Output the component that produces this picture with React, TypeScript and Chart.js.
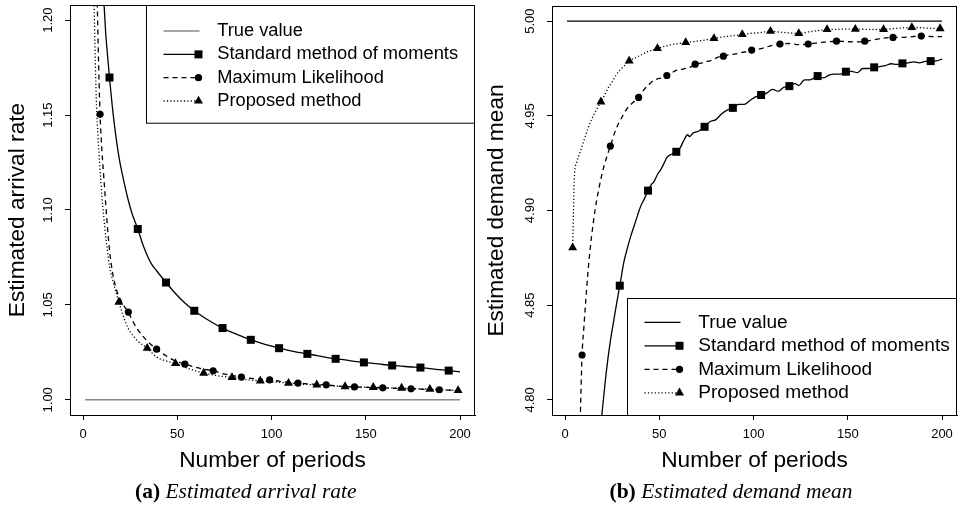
import React, { useEffect, useRef } from 'react';
import { Chart, registerables } from 'chart.js';

Chart.register(...registerables);

// ---------------- data ----------------
const X_TICKS = [0, 50, 100, 150, 200];
const Y_TICKS_A = [1.0, 1.05, 1.1, 1.15, 1.2];
const Y_TICKS_B = [4.8, 4.85, 4.9, 4.95, 5.0];
const SERIES_LABELS = ['True value', 'Standard method of moments', 'Maximum Likelihood', 'Proposed method'];
const X_TITLE = 'Number of periods';
const Y_TITLE_A = 'Estimated arrival rate';
const Y_TITLE_B = 'Estimated demand mean';
const CAPTION_A = ['(a)', 'Estimated arrival rate'];
const CAPTION_B = ['(b)', 'Estimated demand mean'];

const TRUE_N = [1, 200];
const TRUE_A = [1.0, 1.0];
const TRUE_B = [5.0, 5.0];

// (a) arrival rate — standard method of moments
const SMM_A_N = [9, 10, 11, 12, 13, 14, 16, 19, 21, 24, 26, 29, 32, 36, 39, 44, 49, 54, 59, 64, 69, 74, 79, 84, 89, 94, 99, 104, 109, 114, 119, 124, 129, 134, 139, 144, 149, 154, 159, 164, 169, 174, 179, 184, 189, 194, 200];
const SMM_A = [1.262, 1.232, 1.21, 1.193, 1.181, 1.1698, 1.15, 1.128, 1.118, 1.105, 1.098, 1.09, 1.081, 1.072, 1.068, 1.0618, 1.056, 1.051, 1.0469, 1.0435, 1.0405, 1.0378, 1.0355, 1.0335, 1.0316, 1.03, 1.0285, 1.0272, 1.026, 1.025, 1.0242, 1.0233, 1.0224, 1.0216, 1.021, 1.0203, 1.0197, 1.0192, 1.0186, 1.0181, 1.0177, 1.0173, 1.017, 1.0164, 1.0159, 1.0154, 1.0147];
// (a) maximum likelihood
const ML_A_N = [6, 7, 8, 9, 10, 11, 12, 13, 14, 15, 16, 18, 20, 22, 24, 26, 29, 34, 39, 44, 49, 54, 59, 64, 69, 74, 79, 84, 89, 94, 99, 104, 109, 114, 119, 124, 129, 134, 139, 144, 149, 154, 159, 164, 169, 174, 179, 184, 189, 194, 200];
const ML_A = [1.29, 1.235, 1.186, 1.1504, 1.131, 1.117, 1.103, 1.09, 1.079, 1.071, 1.065, 1.057, 1.0525, 1.049, 1.0462, 1.042, 1.037, 1.031, 1.0267, 1.0232, 1.0205, 1.0188, 1.0173, 1.0162, 1.0153, 1.0138, 1.0128, 1.012, 1.0113, 1.0108, 1.0105, 1.0098, 1.0092, 1.0088, 1.0084, 1.0081, 1.0079, 1.0074, 1.007, 1.0068, 1.0066, 1.0064, 1.0063, 1.0061, 1.0059, 1.0058, 1.0056, 1.0054, 1.0053, 1.0051, 1.0049];
// (a) proposed method
const PM_A_N = [4, 5, 6, 7, 8, 9, 10, 11, 12, 13, 14, 16, 19, 21, 24, 29, 34, 39, 44, 49, 54, 59, 64, 69, 74, 79, 84, 89, 94, 99, 104, 109, 114, 119, 124, 129, 134, 139, 144, 149, 154, 159, 164, 169, 174, 179, 184, 189, 194, 199, 200];
const PM_A = [1.36, 1.25, 1.2, 1.158, 1.137, 1.121, 1.107, 1.096, 1.086, 1.078, 1.0705, 1.062, 1.0515, 1.045, 1.0375, 1.031, 1.0272, 1.0225, 1.0205, 1.0192, 1.0172, 1.0155, 1.0141, 1.0131, 1.0123, 1.0118, 1.011, 1.0104, 1.01, 1.0095, 1.0092, 1.0088, 1.0084, 1.0081, 1.0079, 1.0075, 1.0072, 1.007, 1.0068, 1.0067, 1.0066, 1.0064, 1.0063, 1.0062, 1.0059, 1.0058, 1.0056, 1.0053, 1.0051, 1.0049, 1.0049];

// (b) demand mean — standard method of moments
const SMM_B_N = [14, 17, 19, 20, 22, 24, 26, 27, 29, 30, 31, 33, 35, 37, 40, 42, 44, 46, 47, 49, 51, 53, 54, 56, 57, 59, 61, 63, 65, 66, 68, 71, 74, 77, 80, 83, 86, 89, 92, 95, 98, 101, 104, 107, 110, 113, 116, 119, 122, 124, 127, 130, 134, 137, 140, 143, 146, 149, 152, 155, 158, 161, 164, 167, 170, 173, 176, 179, 182, 185, 188, 191, 194, 197, 200];
const SMM_B = [4.72, 4.762, 4.787, 4.797, 4.816, 4.831, 4.843, 4.849, 4.8603, 4.866, 4.872, 4.88, 4.887, 4.893, 4.902, 4.906, 4.9105, 4.914, 4.915, 4.919, 4.922, 4.926, 4.928, 4.9295, 4.93, 4.931, 4.933, 4.937, 4.94, 4.939, 4.941, 4.942, 4.9442, 4.947, 4.948, 4.951, 4.953, 4.9542, 4.956, 4.956, 4.958, 4.96, 4.961, 4.962, 4.964, 4.963, 4.965, 4.9657, 4.967, 4.966, 4.969, 4.969, 4.971, 4.97, 4.9715, 4.972, 4.972, 4.9733, 4.9735, 4.9728, 4.975, 4.975, 4.9756, 4.976, 4.9765, 4.9775, 4.9772, 4.9777, 4.978, 4.9785, 4.978, 4.9787, 4.9789, 4.979, 4.98];
// (b) maximum likelihood
const ML_B_N = [8, 9, 10, 11, 12, 13, 14, 15, 16, 18, 20, 22, 24, 27, 30, 33, 36, 39, 42, 44, 46, 49, 51, 54, 57, 59, 62, 64, 67, 69, 72, 74, 77, 79, 82, 84, 87, 89, 92, 94, 97, 99, 104, 109, 114, 119, 124, 129, 134, 139, 144, 149, 154, 159, 164, 169, 174, 179, 184, 189, 194, 200];
const ML_B = [4.789, 4.8237, 4.839, 4.853, 4.866, 4.877, 4.886, 4.894, 4.901, 4.912, 4.921, 4.928, 4.934, 4.943, 4.949, 4.954, 4.957, 4.9597, 4.964, 4.966, 4.968, 4.9695, 4.97, 4.9713, 4.973, 4.974, 4.9745, 4.975, 4.976, 4.9773, 4.9778, 4.9785, 4.979, 4.98, 4.9812, 4.9815, 4.9822, 4.9825, 4.983, 4.9835, 4.984, 4.9847, 4.9855, 4.987, 4.9879, 4.9882, 4.9876, 4.9879, 4.9886, 4.989, 4.9894, 4.9892, 4.989, 4.9894, 4.9902, 4.991, 4.9914, 4.9914, 4.9918, 4.9921, 4.9919, 4.9918];
// (b) proposed method
const PM_B_N = [4, 5, 6, 8, 10, 12, 14, 16, 19, 21, 23, 25, 27, 29, 31, 34, 37, 39, 42, 44, 47, 49, 54, 59, 64, 69, 74, 79, 84, 89, 94, 99, 104, 109, 114, 119, 124, 129, 134, 139, 144, 149, 154, 159, 164, 169, 174, 179, 184, 189, 194, 199, 200];
const PM_B = [4.8804, 4.919, 4.925, 4.931, 4.937, 4.943, 4.948, 4.952, 4.9574, 4.961, 4.965, 4.968, 4.9715, 4.974, 4.976, 4.979, 4.9805, 4.9815, 4.983, 4.984, 4.985, 4.9856, 4.987, 4.988, 4.9888, 4.9893, 4.99, 4.9909, 4.9917, 4.9923, 4.993, 4.9936, 4.994, 4.9947, 4.9942, 4.9938, 4.9935, 4.9943, 4.995, 4.9956, 4.9957, 4.9958, 4.9958, 4.9957, 4.9956, 4.9956, 4.996, 4.9964, 4.9967, 4.9965, 4.9962, 4.9961, 4.9961];

// ---------------- styling helpers ----------------
const SANS = '"Liberation Sans", Arial, Helvetica, sans-serif';
const SERIF = '"Liberation Serif", "Times New Roman", serif';

function pts(ns: number[], vs: number[]) {
  return ns.map((n, i) => ({ x: n, y: vs[i] }));
}
function markerRadii(ns: number[], first: number, r: number) {
  return ns.map((n) => (n >= first && (n - first) % 15 === 0 ? r : 0));
}

function drawMarker(ctx: CanvasRenderingContext2D, style: string, x: number, y: number) {
  ctx.beginPath();
  if (style === 'rect') {
    ctx.rect(x - 4, y - 4, 8, 8);
  } else if (style === 'circle') {
    ctx.arc(x, y, 3.6, 0, Math.PI * 2);
  } else if (style === 'triangle') {
    const r = 5.2;
    ctx.moveTo(x, y - r);
    ctx.lineTo(x + r * 0.866, y + r / 2);
    ctx.lineTo(x - r * 0.866, y + r / 2);
    ctx.closePath();
  }
  ctx.fill();
}

const rPlotPlugin = {
  id: 'rPlot',
  afterDatasetsDraw(chart: any, _args: any, opts: any) {
    const { ctx, chartArea } = chart;
    ctx.save();
    ctx.strokeStyle = '#000';
    ctx.lineWidth = 1;
    const l = Math.round(chartArea.left) + 0.5;
    const t = Math.round(chartArea.top) + 0.5;
    const r = Math.round(chartArea.right) - 0.5;
    const b = Math.round(chartArea.bottom) + 0.5;
    ctx.strokeRect(l, t, r - l, b - t);

    // legend box
    const W = opts.legendW;
    const H = opts.legendH;
    const lx = Math.round(chartArea.right - W) + 0.5;
    const ly = opts.anchor === 'top' ? t : Math.round(chartArea.bottom - H) + 0.5;
    const h = opts.anchor === 'top' ? H : b - ly;
    ctx.fillStyle = '#fff';
    ctx.fillRect(lx, ly, r - lx, h);
    ctx.strokeRect(lx, ly, r - lx, h);
    ctx.font = `${opts.legendFont}px ${SANS}`;
    ctx.textBaseline = 'middle';
    ctx.textAlign = 'left';
    chart.data.datasets.forEach((ds: any, i: number) => {
      const y = ly + opts.firstOffset + i * opts.spacing;
      ctx.strokeStyle = ds.borderColor;
      ctx.lineWidth = ds.borderWidth;
      ctx.setLineDash(ds.borderDash || []);
      ctx.beginPath();
      ctx.moveTo(lx + 17, y);
      ctx.lineTo(lx + 53, y);
      ctx.stroke();
      ctx.setLineDash([]);
      ctx.fillStyle = '#000';
      if (ds.legendMarker) drawMarker(ctx, ds.legendMarker, lx + 52, y);
      ctx.fillText(ds.label, lx + 70.7, y);
    });
    ctx.restore();
  },
  afterDraw(chart: any, _args: any, opts: any) {
    const { ctx } = chart;
    ctx.save();
    ctx.fillStyle = '#000';
    ctx.textBaseline = 'alphabetic';
    ctx.textAlign = 'left';
    const boldFont = `bold ${opts.capFont}px ${SERIF}`;
    const itFont = `italic ${opts.capFont}px ${SERIF}`;
    ctx.font = boldFont;
    const w1 = ctx.measureText(opts.caption[0] + ' ').width;
    ctx.font = itFont;
    const w2 = ctx.measureText(opts.caption[1]).width;
    const x0 = opts.capX - (w1 + w2) / 2;
    ctx.font = boldFont;
    ctx.fillText(opts.caption[0], x0, opts.capY);
    ctx.font = itFont;
    ctx.fillText(opts.caption[1], x0 + w1, opts.capY);
    ctx.restore();
  },
};

function makeConfig(panel: 'a' | 'b') {
  const isA = panel === 'a';
  const yMin = isA ? 0.992 : 4.792;
  const yMax = isA ? 1.208 : 5.008;
  const yTicks = isA ? Y_TICKS_A : Y_TICKS_B;
  const trueColor = isA ? '#8a8a8a' : '#000';
  const sets = isA
    ? [[TRUE_N, TRUE_A], [SMM_A_N, SMM_A], [ML_A_N, ML_A], [PM_A_N, PM_A]]
    : [[TRUE_N, TRUE_B], [SMM_B_N, SMM_B], [ML_B_N, ML_B], [PM_B_N, PM_B]];

  const datasets = [
    {
      label: SERIES_LABELS[0],
      data: pts(sets[0][0], sets[0][1]),
      borderColor: trueColor,
      borderWidth: isA ? 1.5 : 1.2,
      borderDash: [],
      pointRadius: 0,
      legendMarker: null,
    },
    {
      label: SERIES_LABELS[1],
      data: pts(sets[1][0], sets[1][1]),
      borderColor: '#000',
      borderWidth: 1.3,
      borderDash: [],
      pointStyle: 'rect',
      pointRadius: markerRadii(sets[1][0], 14, 5.66),
      legendMarker: 'rect',
    },
    {
      label: SERIES_LABELS[2],
      data: pts(sets[2][0], sets[2][1]),
      borderColor: '#000',
      borderWidth: 1.3,
      borderDash: [5, 4],
      pointStyle: 'circle',
      pointRadius: markerRadii(sets[2][0], 9, 3.6),
      legendMarker: 'circle',
    },
    {
      label: SERIES_LABELS[3],
      data: pts(sets[3][0], sets[3][1]),
      borderColor: '#000',
      borderWidth: 1.3,
      borderDash: [1.2, 2.2],
      pointStyle: 'triangle',
      pointRadius: markerRadii(sets[3][0], 4, 5.2),
      legendMarker: 'triangle',
    },
  ].map((d: any) => ({
    ...d,
    fill: false,
    cubicInterpolationMode: 'monotone',
    pointBackgroundColor: '#000',
    pointBorderColor: '#000',
    pointBorderWidth: 0,
    pointHoverRadius: 0,
  }));

  return {
    type: 'line',
    data: { datasets },
    plugins: [rPlotPlugin],
    options: {
      animation: false,
      responsive: false,
      events: [],
      layout: { autoPadding: false, padding: { left: 0, top: isA ? 5 : 6, right: isA ? 4 : 1, bottom: 31 } },
      plugins: {
        legend: { display: false },
        tooltip: { enabled: false },
        rPlot: {
          anchor: isA ? 'top' : 'bottom',
          legendW: isA ? 329.5 : 330,
          legendH: isA ? 117.7 : 116.7,
          firstOffset: isA ? 25.6 : 23.8,
          spacing: isA ? 23.3 : 23.5,
          legendFont: isA ? 18.3 : 19.1,
          caption: isA ? CAPTION_A : CAPTION_B,
          capX: isA ? 245.8 : 252,
          capY: 498,
          capFont: 21.5,
        },
      },
      scales: {
        x: {
          type: 'linear',
          min: -6.96,
          max: 207.96,
          afterBuildTicks: (s: any) => {
            s.ticks = X_TICKS.map((v) => ({ value: v }));
          },
          afterFit: (s: any) => {
            s.height = 63;
            s.paddingLeft = 0;
            s.paddingRight = 0;
          },
          ticks: {
            autoSkip: false,
            maxRotation: 0,
            minRotation: 0,
            padding: 7,
            color: '#000',
            font: { family: SANS, size: 13 },
            callback: (v: any) => String(v),
          },
          grid: { drawOnChartArea: false, drawTicks: true, tickLength: 5, color: '#000', lineWidth: 1 },
          border: { display: true, color: '#000', width: 1 },
          title: {
            display: true,
            text: X_TITLE,
            color: '#000',
            font: { family: SANS, size: 22.7 },
            padding: { top: 0, bottom: 3.4 },
          },
        },
        y: {
          type: 'linear',
          min: yMin,
          max: yMax,
          afterBuildTicks: (s: any) => {
            s.ticks = yTicks.map((v) => ({ value: v }));
          },
          afterFit: (s: any) => {
            s.width = isA ? 70 : 73;
            s.paddingTop = 0;
            s.paddingBottom = 0;
          },
          ticks: {
            minRotation: 90,
            maxRotation: 90,
            crossAlign: 'center',
            padding: isA ? 4.3 : 3.9,
            color: '#000',
            font: { family: SANS, size: 13 },
            callback: (v: any) => Number(v).toFixed(2),
          },
          grid: { drawOnChartArea: false, drawTicks: true, tickLength: 5, color: '#000', lineWidth: 1 },
          border: { display: true, color: '#000', width: 1 },
          title: {
            display: true,
            text: isA ? Y_TITLE_A : Y_TITLE_B,
            color: '#000',
            font: { family: SANS, size: 22.7 },
            padding: { top: isA ? 4 : 4.6, bottom: 0 },
          },
        },
      },
    },
  };
}

export default function App() {
  const refA = useRef<HTMLCanvasElement>(null);
  const refB = useRef<HTMLCanvasElement>(null);

  useEffect(() => {
    const ca = new Chart(refA.current as HTMLCanvasElement, makeConfig('a') as any);
    const cb = new Chart(refB.current as HTMLCanvasElement, makeConfig('b') as any);
    return () => {
      ca.destroy();
      cb.destroy();
    };
  }, []);

  return (
    <div style={{ position: 'absolute', left: 0, top: 0, width: 958, height: 509, background: '#fff', overflow: 'hidden' }}>
      <canvas ref={refA} width={479} height={509} style={{ position: 'absolute', left: 0, top: 0, width: 479, height: 509 }} />
      <canvas ref={refB} width={479} height={509} style={{ position: 'absolute', left: 479, top: 0, width: 479, height: 509 }} />
    </div>
  );
}
